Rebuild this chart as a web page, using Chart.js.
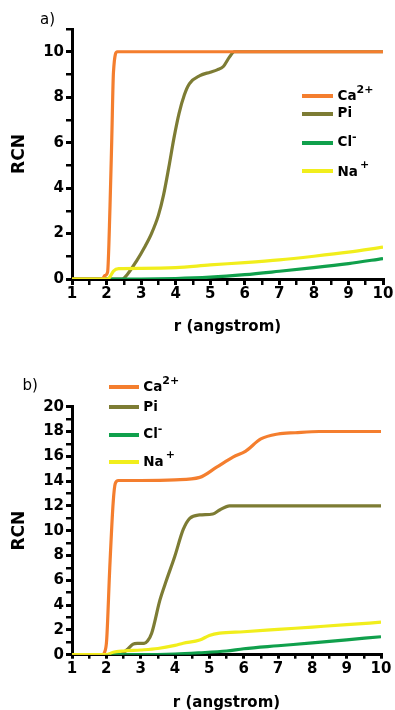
<!DOCTYPE html>
<html>
<head>
<meta charset="utf-8">
<script src="https://cdn.jsdelivr.net/npm/chart.js@4/dist/chart.umd.min.js"></script>
<style>
  html, body { margin:0; padding:0; background:#fff; overflow:hidden; width:395px; height:710px; }
  #wrap { position:relative; width:395px; height:710px; }
  canvas { position:absolute; left:0; }
  .t { position:absolute; font-family:"DejaVu Sans", sans-serif; white-space:nowrap; color:#000; }
  .lg { font-weight:bold; }
  .sup { position:relative; font-size:11px; }
  .sw { position:absolute; height:4px; }
</style>
</head>
<body>
<div id="wrap">
  <canvas id="cA" width="395" height="350" style="top:0px"></canvas>
  <canvas id="cB" width="395" height="370" style="top:350px"></canvas>
</div>
<script>
// ---------- DATA ----------
const seriesNames = ["Ca2+", "Pi", "Cl-", "Na+"];
const xTickLabels = ["1","2","3","4","5","6","7","8","9","10"];
const yTickLabelsA = ["0","2","4","6","8","10"];
const yTickLabelsB = ["0","2","4","6","8","10","12","14","16","18","20"];

// panel a)
const caA_r = [1, 1.88, 1.95, 2.03, 2.1, 2.15, 2.2, 2.31, 10];
const caA_v = [0, 0, 0.15, 0.3, 3.2, 6.1, 9.1, 10, 10];
const piA_r = [1, 2.45, 2.6, 2.87, 3.1, 3.3, 3.5, 3.65, 3.8, 3.95, 4.1, 4.25, 4.4, 4.7, 5.0, 5.2, 5.38, 5.55, 5.7, 10];
const piA_v = [0, 0, 0.2, 0.8, 1.4, 2.0, 2.8, 3.7, 4.9, 6.2, 7.3, 8.1, 8.6, 8.95, 9.1, 9.2, 9.35, 9.75, 10, 10];
const clA_r = [1, 3, 4, 5, 6, 7, 8, 9, 10];
const clA_v = [0, 0, 0.02, 0.08, 0.19, 0.34, 0.5, 0.68, 0.9];
const naA_r = [1, 2.02, 2.1, 2.2, 2.35, 3, 4, 5, 6, 7, 8, 9, 10];
const naA_v = [0, 0, 0.1, 0.35, 0.46, 0.47, 0.5, 0.62, 0.72, 0.84, 1.0, 1.18, 1.4];

// panel b)
const caB_r = [1, 1.88, 1.95, 2.01, 2.1, 2.2, 2.26, 2.35, 3, 4, 4.72, 5.2, 5.7, 6.05, 6.5, 7, 7.5, 8.2, 10];
const caB_v = [0, 0, 0.2, 1.2, 7, 12.3, 13.8, 14.05, 14.05, 14.1, 14.3, 15.1, 15.95, 16.4, 17.4, 17.8, 17.9, 18, 18];
const piB_r = [1, 2.4, 2.6, 2.78, 2.9, 3.1, 3.2, 3.32, 3.56, 3.75, 3.99, 4.24, 4.43, 4.72, 5.1, 5.3, 5.59, 10];
const piB_v = [0, 0, 0.4, 0.86, 0.92, 0.92, 1.1, 1.73, 4.4, 6.0, 7.9, 10.1, 11.0, 11.27, 11.35, 11.67, 12, 12];
const clB_r = [1, 3, 4, 4.7, 5.5, 6, 7, 8, 9, 10];
const clB_v = [0, 0, 0.05, 0.15, 0.3, 0.48, 0.72, 0.95, 1.2, 1.45];
const naB_r = [1, 2.0, 2.2, 2.5, 3, 3.5, 4, 4.24, 4.72, 5.0, 5.3, 6, 7, 8, 9, 10];
const naB_v = [0, 0, 0.2, 0.3, 0.38, 0.5, 0.75, 0.92, 1.18, 1.55, 1.74, 1.85, 2.04, 2.23, 2.42, 2.62];

// ---------- STYLE ----------
const COLORS = { ca:'#F47E2E', pi:'#7D7C34', cl:'#10A04C', na:'#F1EE1C' };
const FONT = '"DejaVu Sans", sans-serif';

function pts(r, v) { return r.map((x, i) => ({x: x, y: v[i]})); }
function ds(label, r, v, color, order) {
  return { label, data: pts(r, v), borderColor: color, backgroundColor: color,
           borderWidth: 3.2, pointRadius: 0, fill: false, order,
           cubicInterpolationMode: 'monotone' };
}

function makeChart(id, cfg) {
  const H = cfg.H;
  return new Chart(document.getElementById(id), {
    type: 'line',
    data: { datasets: [
      ds(seriesNames[0], cfg.ca[0], cfg.ca[1], COLORS.ca, 1),
      ds(seriesNames[1], cfg.pi[0], cfg.pi[1], COLORS.pi, 3),
      ds(seriesNames[2], cfg.cl[0], cfg.cl[1], COLORS.cl, 2),
      ds(seriesNames[3], cfg.na[0], cfg.na[1], COLORS.na, 0)
    ]},
    options: {
      responsive: false, animation: false, devicePixelRatio: 1,
      layout: { padding: { left: 0, right: cfg.padR, top: cfg.top, bottom: 0 } },
      plugins: { legend: { display: false }, tooltip: { enabled: false } },
      scales: {
        x: {
          type: 'linear', min: 1, max: 10,
          afterFit: (s) => { s.height = H - cfg.bottom; },
          border: { display: true, color: '#000', width: 3 },
          grid: { drawOnChartArea: false, drawTicks: true, tickLength: cfg.xTick, color: '#000',
                  lineWidth: (c) => (c.tick && Number.isInteger(c.tick.value)) ? 3 : 2.5 },
          ticks: {
            stepSize: 0.5, autoSkip: false, maxRotation: 0, padding: cfg.xPad, color: '#000',
            font: { family: FONT, size: 15, weight: 'bold' },
            callback: (v) => { const i = xTickLabels.indexOf(String(v)); return i >= 0 ? xTickLabels[i] : ''; }
          },
          title: { display: true, text: 'r (angstrom)', color: '#000',
                   font: { family: FONT, size: 15, weight: 'bold' },
                   padding: { top: 0, bottom: cfg.titlePadB } }
        },
        y: {
          type: 'linear', min: 0, max: cfg.ymax,
          afterFit: (s) => { s.width = 72; },
          border: { display: true, color: '#000', width: 3 },
          grid: { drawOnChartArea: false, drawTicks: true, tickLength: 6, color: '#000',
                  lineWidth: (c) => (c.tick && c.tick.value % 2 === 0) ? 3 : 2.5 },
          ticks: {
            stepSize: 1, autoSkip: false, padding: 2, color: '#000',
            font: { family: FONT, size: 15, weight: 'bold' },
            callback: (v) => { const i = cfg.yLabels.indexOf(String(v)); return i >= 0 ? cfg.yLabels[i] : ''; }
          },
          title: { display: true, text: 'RCN', color: '#000',
                   font: { family: FONT, size: 17, weight: 'bold' },
                   padding: { top: 9.5, bottom: 0 } }
        }
      }
    }
  });
}

makeChart('cA', { H: 350, top: 29, bottom: 279, padR: 12, ymax: 11, yLabels: yTickLabelsA,
  xTick: 6, xPad: 0, titlePadB: 13.5,
  ca: [caA_r, caA_v], pi: [piA_r, piA_v], cl: [clA_r, clA_v], na: [naA_r, naA_v] });
makeChart('cB', { H: 370, top: 56.7, bottom: 304.7, padR: 14, ymax: 20, yLabels: yTickLabelsB,
  xTick: 4, xPad: 1.5, titlePadB: 8,
  ca: [caB_r, caB_v], pi: [piB_r, piB_v], cl: [clB_r, clB_v], na: [naB_r, naB_v] });

// ---------- LEGENDS & PANEL LABELS (HTML text) ----------
const wrap = document.getElementById('wrap');
const ASC = 0.928;
function text(html, left, baseline, cls, size, extra) {
  const d = document.createElement('div');
  d.className = 't ' + (cls || '');
  d.style.left = left + 'px';
  d.style.fontSize = size + 'px';
  d.style.lineHeight = (size * 1.164) + 'px';
  d.style.top = (baseline - ASC * size) + 'px';
  if (extra) Object.assign(d.style, extra);
  d.innerHTML = html;
  wrap.appendChild(d);
}
function swatch(x1, x2, yc, color) {
  const d = document.createElement('div');
  d.className = 'sw';
  d.style.left = x1 + 'px'; d.style.width = (x2 - x1) + 'px';
  d.style.top = (yc - 2) + 'px'; d.style.background = color;
  wrap.appendChild(d);
}
const legendLabels = [
  'Ca<span class="sup" style="top:-7px">2+</span>',
  'Pi',
  'Cl<span class="sup" style="top:-6px">-</span>',
  'Na<span class="sup" style="top:-8px;left:2px">+</span>'
];
const legendColors = [COLORS.ca, COLORS.pi, COLORS.cl, COLORS.na];
// panel a legend
const legA_line = [95.5, 113.5, 142.8, 171.2];
const legA_base = [100.7, 117.9, 146.8, 176.6];
for (let i = 0; i < 4; i++) {
  swatch(302, 333, legA_line[i], legendColors[i]);
  text(legendLabels[i], 337.5, legA_base[i], 'lg', 13.5, {});
}
// panel b legend
const legB_line = [387, 407.2, 434.5, 461.8];
const legB_base = [391.7, 411.7, 439, 466.7];
for (let i = 0; i < 4; i++) {
  swatch(108.5, 138.5, legB_line[i], legendColors[i]);
  text(legendLabels[i], 143.3, legB_base[i], 'lg', 13.5, {});
}
text('a)', 40, 24.5, '', 15, {});
text('b)', 22.5, 390.7, '', 15, {});
</script>
</body>
</html>
